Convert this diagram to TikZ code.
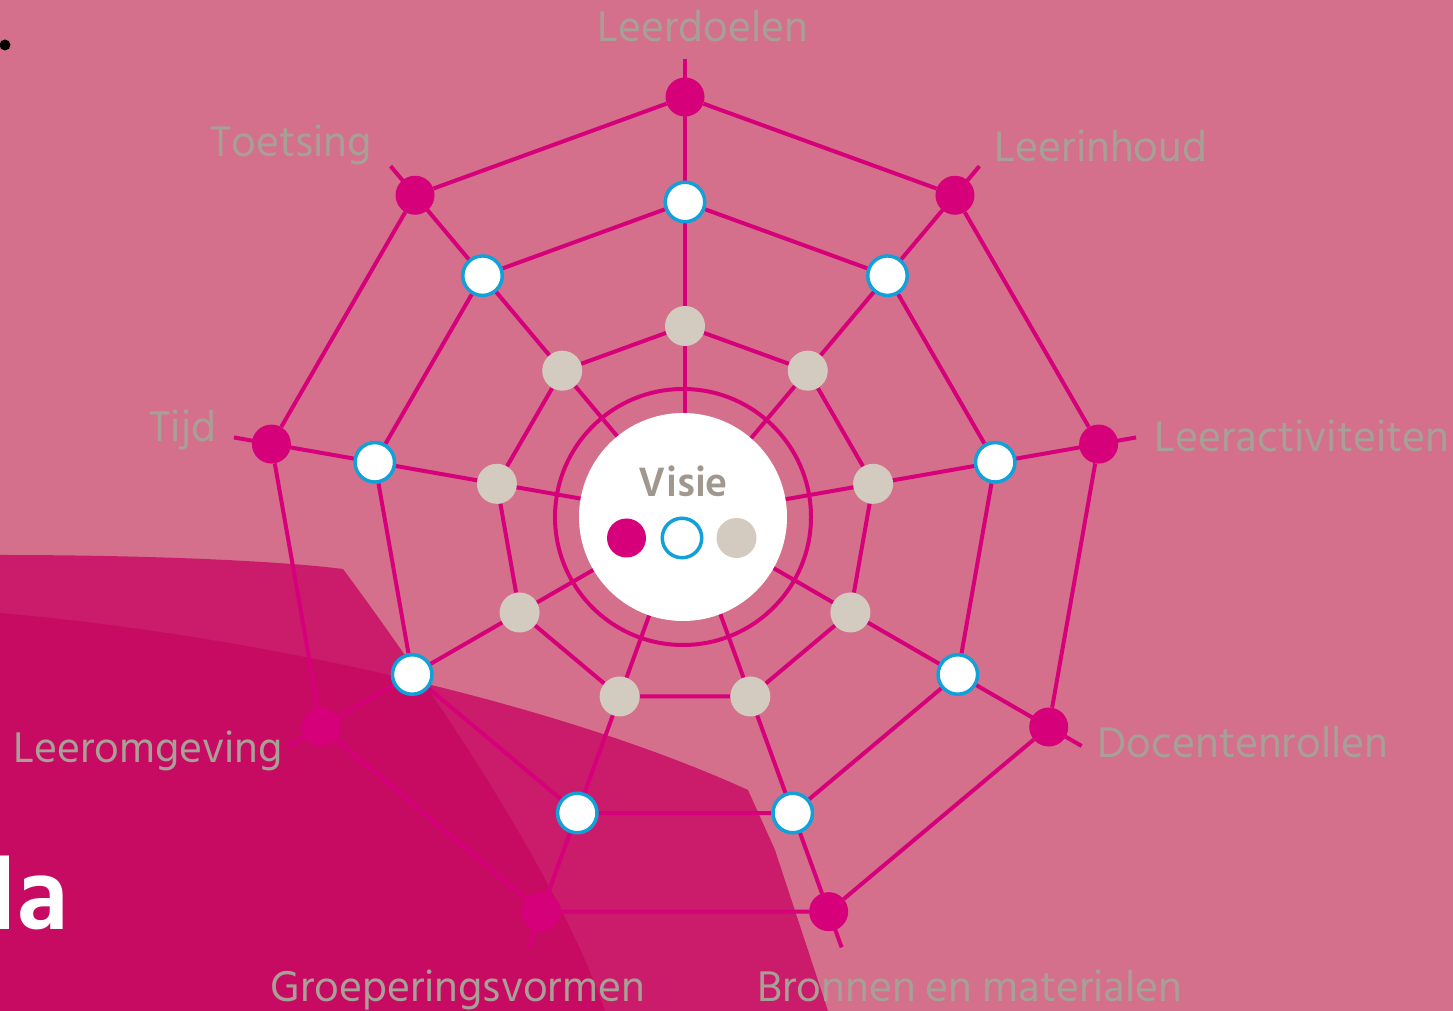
\documentclass[tikz,border=0pt]{standalone}
\usepackage{fontspec}
\setmainfont{Hind Siliguri}
\definecolor{webpink}{RGB}{212,112,140}
\definecolor{webmagenta}{RGB}{214,0,122}
\definecolor{webblue}{RGB}{18,160,216}
\definecolor{webbeige}{RGB}{211,202,192}
\definecolor{webgrey}{RGB}{168,160,150}
\definecolor{visiegrey}{RGB}{160,152,142}
\definecolor{bandmid}{RGB}{202,28,106}
\definecolor{banddark}{RGB}{199,10,98}
\pgfdeclarelayer{back}
\pgfdeclarelayer{web}
\pgfsetlayers{back,web,main}
\tikzset{
  outerdot/.style={circle,fill=webmagenta,inner sep=0pt,minimum size=39pt},
  middot/.style={circle,fill=white,draw=webblue,line width=3.5pt,inner sep=0pt,minimum size=39.5pt},
  innerdot/.style={circle,fill=webbeige,inner sep=0pt,minimum size=40pt},
  thread/.style={webmagenta,line width=4pt},
  webtext/.style={text=webgrey,inner sep=0pt,anchor=base,font=\fontsize{44}{44}\selectfont}
}
\begin{document}
\begin{tikzpicture}[x=1pt,y=1pt]
  \useasboundingbox (0,0) rectangle (1453,1011);
  \begin{pgfonlayer}{back}
    \fill[webpink] (0,0) rectangle (1453,1011);
    \fill[bandmid] (0,456) .. controls (150,456) and (280,450) .. (343,442)
      .. controls (440,311) and (560,131) .. (605,0) -- (0,0) -- cycle;
    \fill[bandmid] (0,398) .. controls (250,376) and (550,311) .. (748,221)
      -- (775,161) -- (828,0) -- (0,0) -- cycle;
    \begin{scope}
      \clip (0,456) .. controls (150,456) and (280,450) .. (343,442)
        .. controls (440,311) and (560,131) .. (605,0) -- (0,0) -- cycle;
      \fill[banddark] (0,398) .. controls (250,376) and (550,311) .. (748,221)
        -- (775,161) -- (828,0) -- (0,0) -- cycle;
    \end{scope}
  \end{pgfonlayer}
  \fill (5,966) circle (5.5);
  \node[text=white,inner sep=0pt,anchor=base east,font=\bfseries\fontsize{104}{104}\selectfont] (da) at (69,81) {da};

  \begin{scope}[shift={(685,494)}]
    \coordinate (c) at (0,0);
    \draw
      (90:420) node[outerdot] (o0) {}
      (50:420) node[outerdot] (o1) {}
      (10:420) node[outerdot] (o2) {}
      (-30:420) node[outerdot] (o3) {}
      (-70:420) node[outerdot] (o4) {}
      (-110:420) node[outerdot] (o5) {}
      (-150:420) node[outerdot] (o6) {}
      (170:420) node[outerdot] (o7) {}
      (130:420) node[outerdot] (o8) {};
    \draw
      (90:315) node[middot] (m0) {}
      (50:315) node[middot] (m1) {}
      (10:315) node[middot] (m2) {}
      (-30:315) node[middot] (m3) {}
      (-70:315) node[middot] (m4) {}
      (-110:315) node[middot] (m5) {}
      (-150:315) node[middot] (m6) {}
      (170:315) node[middot] (m7) {}
      (130:315) node[middot] (m8) {};
    \draw
      (90:191) node[innerdot] (i0) {}
      (50:191) node[innerdot] (i1) {}
      (10:191) node[innerdot] (i2) {}
      (-30:191) node[innerdot] (i3) {}
      (-70:191) node[innerdot] (i4) {}
      (-110:191) node[innerdot] (i5) {}
      (-150:191) node[innerdot] (i6) {}
      (170:191) node[innerdot] (i7) {}
      (130:191) node[innerdot] (i8) {};
    \path
      (90:458) coordinate (e0)
      (50:458) coordinate (e1)
      (10:458) coordinate (e2)
      (-30:458) coordinate (e3)
      (-70:458) coordinate (e4)
      (-110:458) coordinate (e5)
      (-150:458) coordinate (e6)
      (170:458) coordinate (e7)
      (130:458) coordinate (e8);
    \begin{pgfonlayer}{web}
      \begin{scope}[thread]
        \draw (c) -- (e0);
        \draw (c) -- (e1);
        \draw (c) -- (e2);
        \draw (c) -- (e3);
        \draw (c) -- (e4);
        \draw (c) -- (e5);
        \draw (c) -- (e6);
        \draw (c) -- (e7);
        \draw (c) -- (e8);
        \draw (-2,0) circle (128);
        \draw (o0) -- (o1) -- (o2) -- (o3) -- (o4) -- (o5) -- (o6) -- (o7) -- (o8) -- (o0);
        \draw (m0) -- (m1) -- (m2) -- (m3) -- (m4) -- (m5) -- (m6) -- (m7) -- (m8) -- (m0);
        \draw (i0) -- (i1) -- (i2) -- (i3) -- (i4) -- (i5) -- (i6) -- (i7) -- (i8) -- (i0);
      \end{scope}
    \end{pgfonlayer}
    % centre
    \node[circle,fill=white,inner sep=0pt,minimum size=208pt] (visie) at (-2,0) {};
    \node[text=visiegrey,inner sep=0pt,anchor=base,font=\bfseries\fontsize{42}{42}\selectfont] (visietext) at (-1.5,20) {Visie};
    \node[circle,fill=webmagenta,inner sep=0pt,minimum size=39pt] (v1) at (-58.5,-21) {};
    \node[middot] (v2) at (-3,-21) {};
    \node[circle,fill=webbeige,inner sep=0pt,minimum size=40pt] (v3) at (51.5,-21) {};
  \end{scope}

  \node[webtext] (leerdoelen) at (703,969) {Leerdoelen};
  \node[webtext] (leerinhoud) at (1101,849) {Leerinhoud};
  \node[webtext] (leeractiviteiten) at (1302,559) {Leeractiviteiten};
  \node[webtext] (docentenrollen) at (1243,253) {Docentenrollen};
  \node[webtext] (bronnen) at (970,9) {Bronnen en materialen};
  \node[webtext] (groepering) at (458,9) {Groeperingsvormen};
  \node[webtext] (leeromgeving) at (148,248) {Leeromgeving};
  \node[webtext] (tijd) at (183,569) {Tijd};
  \node[webtext] (toetsing) at (291,854) {Toetsing};
\end{tikzpicture}
\end{document}
